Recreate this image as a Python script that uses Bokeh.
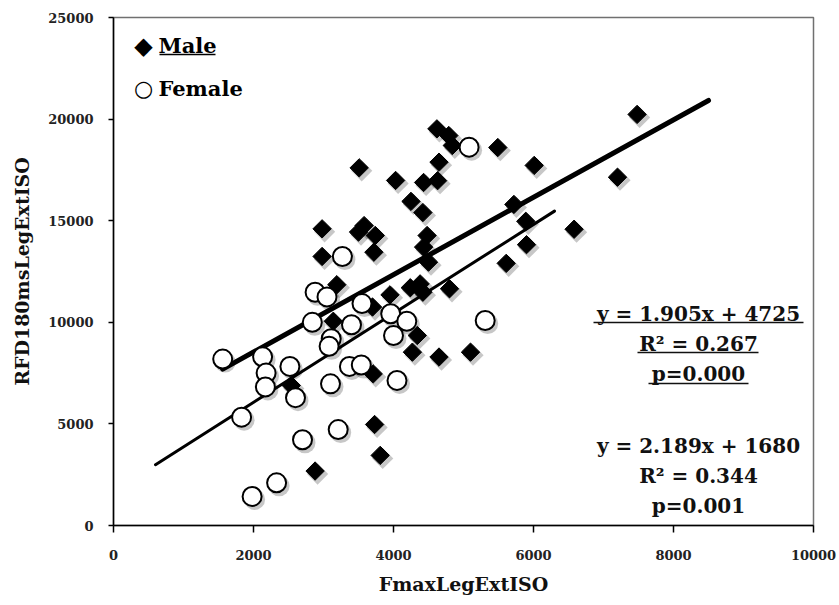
import numpy as np
from bokeh.plotting import figure
from bokeh.models import FixedTicker, Label, ColumnDataSource, BasicTickFormatter
from bokeh.transform import dodge
from bokeh.embed import file_html
from bokeh.resources import INLINE

# ---------------- data ----------------
male_x = [7480, 7200, 6580, 6010, 5490, 5720, 5890, 5900, 5610, 4620,
          4790, 4840, 4650, 4430, 4630, 4030, 3510, 4250, 4420, 4480,
          4430, 4500, 4380, 4240, 4800, 3950, 4420, 3740, 3580, 3500,
          3720, 2980, 2980, 3190, 3700, 3140, 4340, 4270, 4650, 5100,
          3710, 2540, 3730, 3810, 2880]
male_y = [20230, 17140, 14580, 17720, 18600, 15800, 14970, 13820, 12900, 19520,
          19190, 18700, 17880, 16880, 16970, 16980, 17600, 15950, 15400, 14270,
          13700, 12960, 11890, 11700, 11650, 11350, 11480, 14270, 14760, 14440,
          13450, 14600, 13240, 11850, 10750, 10050, 9350, 8530, 8290, 8530,
          7460, 6890, 4970, 3450, 2680]

female_x = [1560, 2130, 2180, 2170, 2520, 2600, 1830, 2700, 3210, 2330,
            1980, 3100, 3370, 3540, 4050, 2840, 3110, 3080, 3400, 2880,
            3050, 3550, 3960, 4190, 4000, 5310, 5080, 3270]
female_y = [8190, 8300, 7500, 6820, 7830, 6290, 5330, 4220, 4720, 2100,
            1430, 6970, 7830, 7900, 7140, 10000, 9190, 8820, 9880, 11480,
            11250, 10920, 10420, 10050, 9350, 10090, 18620, 13240]

male_slope, male_intercept = 1.905, 4725
female_slope, female_intercept = 2.189, 1680
male_fit_x = [1560, 8500]
female_fit_x = [600, 6300]

x_ticks = [0, 2000, 4000, 6000, 8000, 10000]
y_ticks = [0, 5000, 10000, 15000, 20000, 25000]

male_eq = ["y = 1.905x + 4725", "R\u00b2 = 0.267", "p=0.000"]
female_eq = ["y = 2.189x + 1680", "R\u00b2 = 0.344", "p=0.001"]
series_names = ["Male", "Female"]
series_symbols = ["\u25c6", "\u25cb"]
x_title = "FmaxLegExtISO"
y_title = "RFD180msLegExtISO"

# ---------------- layout helpers ----------------
FONT = "DejaVu Serif"
X0, X1, Y0, Y1 = 0, 10000, 0, 25000
FL, FR, FT, FB = 113, 813, 17, 525   # frame edges in pixels


def px_x(px):
    return X0 + (px - FL) / (FR - FL) * (X1 - X0)


def px_y(py):
    return Y0 + (FB - py) / (FB - FT) * (Y1 - Y0)


dx_shadow = px_x(FL + 2.5) - X0
dy_shadow = px_y(FT + 3) - Y1

p = figure(width=839, height=605, x_range=(X0, X1), y_range=(Y0, Y1),
           output_backend="svg", toolbar_location=None,
           min_border_left=FL, min_border_right=839 - FR,
           min_border_top=FT, min_border_bottom=605 - FB)
p.xgrid.visible = False
p.ygrid.visible = False
p.outline_line_color = "#707070"
p.outline_line_width = 1.5
p.background_fill_color = "white"
p.border_fill_color = "white"

p.xaxis.ticker = FixedTicker(ticks=x_ticks)
p.yaxis.ticker = FixedTicker(ticks=y_ticks)
p.xaxis.formatter = BasicTickFormatter(use_scientific=False)
p.yaxis.formatter = BasicTickFormatter(use_scientific=False)
for ax in (p.xaxis[0], p.yaxis[0]):
    ax.axis_line_color = "black"
    ax.axis_line_width = 1.5
    ax.major_tick_line_color = "black"
    ax.major_tick_line_width = 1.5
    ax.major_tick_in = 0
    ax.minor_tick_line_color = None
    ax.major_label_text_font = FONT
    ax.major_label_text_font_size = "13px"
    ax.major_label_text_font_style = "bold"
    ax.major_label_text_color = "#222222"
    ax.axis_label_text_font = FONT
    ax.axis_label_text_font_size = "19px"
    ax.axis_label_text_font_style = "bold"
    ax.axis_label_text_color = "#111111"
p.xaxis.major_tick_out = 7
p.xaxis.major_label_standoff = 17
p.yaxis.major_tick_out = 5
p.yaxis.major_label_standoff = 15
p.xaxis.axis_label = x_title
p.yaxis.axis_label = y_title
p.xaxis.axis_label_standoff = 10
p.yaxis.axis_label_standoff = 12

msrc = ColumnDataSource(dict(x=male_x, y=male_y))
fsrc = ColumnDataSource(dict(x=female_x, y=female_y))

# trend lines
mfy = [male_slope * v + male_intercept for v in male_fit_x]
ffy = [female_slope * v + female_intercept for v in female_fit_x]
p.line(male_fit_x, mfy, line_color="black", line_width=5, line_cap="round")
p.line(female_fit_x, ffy, line_color="black", line_width=3, line_cap="round")

# soft shadows
p.scatter(x=dodge("x", dx_shadow), y=dodge("y", dy_shadow), source=msrc,
          marker="square", angle=np.pi / 4, size=15, fill_color="black",
          fill_alpha=0.22, line_color=None)
p.scatter(x=dodge("x", dx_shadow), y=dodge("y", dy_shadow), source=fsrc,
          marker="circle", size=21, fill_color="black", fill_alpha=0.22,
          line_color=None)

p.scatter(x="x", y="y", source=msrc, marker="square", angle=np.pi / 4,
          size=13, fill_color="black", line_color="black", line_width=1)
p.scatter(x="x", y="y", source=fsrc, marker="circle", size=19,
          fill_color="white", line_color="black", line_width=2)

# legend (symbol + name as text)
legend_rows = [45, 88]
symbol_sizes = ["24px", "22px"]
for sym, name, row, ssz in zip(series_symbols, series_names, legend_rows, symbol_sizes):
    p.add_layout(Label(x=px_x(143), y=px_y(row), text=sym, text_align="center",
                       text_baseline="middle", text_font="DejaVu Sans",
                       text_font_size=ssz, text_font_style="bold",
                       text_color="black"))
    p.add_layout(Label(x=px_x(158), y=px_y(row), text=name, text_align="left",
                       text_baseline="middle", text_font=FONT,
                       text_font_size="21px", text_font_style="bold",
                       text_color="black"))
# underline of "Male"
p.segment(x0=[px_x(159)], y0=[px_y(54)], x1=[px_x(215)], y1=[px_y(54)],
          line_color="black", line_width=1.5)

# equation annotations
xc = px_x(698)
male_rows = [313, 343, 373]
female_rows = [445, 475, 505]
male_ul = [(593, 803, 322), (637, 758, 352), (648, 748, 383)]
for txt, row in zip(male_eq, male_rows):
    p.add_layout(Label(x=xc, y=px_y(row), text=txt, text_align="center",
                       text_baseline="middle", text_font=FONT,
                       text_font_size="20px", text_font_style="bold",
                       text_color="#111111"))
for txt, row in zip(female_eq, female_rows):
    p.add_layout(Label(x=xc, y=px_y(row), text=txt, text_align="center",
                       text_baseline="middle", text_font=FONT,
                       text_font_size="20px", text_font_style="bold",
                       text_color="#111111"))
p.segment(x0=[px_x(a) for a, b, c in male_ul], y0=[px_y(c) for a, b, c in male_ul],
          x1=[px_x(b) for a, b, c in male_ul], y1=[px_y(c) for a, b, c in male_ul],
          line_color="#111111", line_width=1.5)

open("out.html", "w").write(file_html(p, INLINE))
